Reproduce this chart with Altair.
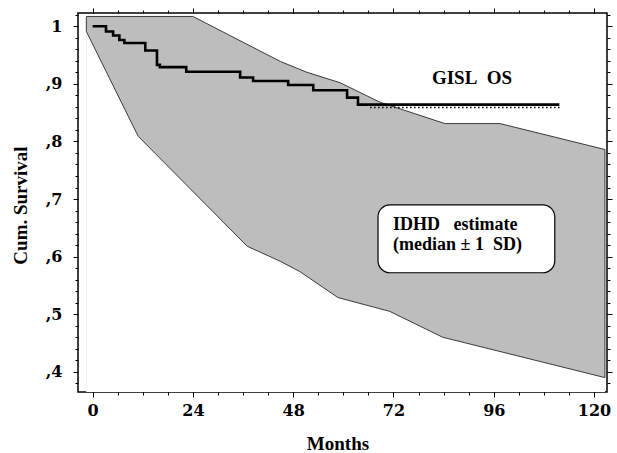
import altair as alt
import pandas as pd

# ---- data ----
upper_months = [-1.5, 24.0, 44.9, 51.3, 59.2, 68.8, 84.3, 97.5, 122.6]
upper_surv = [1.017, 1.017, 0.939, 0.920, 0.902, 0.868, 0.831, 0.831, 0.786]
lower_months = [-1.5, 10.9, 37.0, 44.9, 49.6, 58.7, 71.1, 83.8, 122.6]
lower_surv = [0.991, 0.809, 0.618, 0.592, 0.574, 0.529, 0.505, 0.460, 0.390]

km_months = [0, 3.2, 4.9, 6.4, 7.6, 12.6, 15.4, 16.1, 22.4, 35.3, 38.4, 46.8,
             52.8, 60.9, 63.5, 111.7]
km_surv = [1.0, 0.991, 0.984, 0.976, 0.971, 0.958, 0.933, 0.929, 0.921, 0.911,
           0.905, 0.898, 0.889, 0.876, 0.864, 0.864]

cens_months = [66.4, 112.3]
cens_surv = [0.859, 0.859]

x_major = [0, 24, 48, 72, 96, 120]
x_minor = [0, 6, 12, 18, 24, 30, 36, 42, 48, 54, 60, 66, 72, 78, 84, 90, 96,
           102, 108, 114, 120]
y_major = [0.4, 0.5, 0.6, 0.7, 0.8, 0.9, 1.0]
y_minor = [round(0.38 + 0.02 * i, 2) for i in range(33)]

X_DOM = [-3.5, 123.1]
Y_DOM = [0.365, 1.023]

FONT = "Liberation Serif"
TICKFONT = "DejaVu Serif"
BAND = "#bdbdbd"

upper_df = pd.DataFrame({"m": upper_months, "s": upper_surv})
lower_df = pd.DataFrame({"m": lower_months, "s": lower_surv})
outline_df = pd.DataFrame({
    "m": upper_months + lower_months[::-1] + [upper_months[0]],
    "s": upper_surv + lower_surv[::-1] + [upper_surv[0]],
})
outline_df["i"] = range(len(outline_df))
km_df = pd.DataFrame({"m": km_months, "s": km_surv})
cens_df = pd.DataFrame({"m": cens_months, "s": cens_surv})
one = pd.DataFrame({"a": [0]})

xs = alt.Scale(domain=X_DOM, nice=False, zero=False)
ys = alt.Scale(domain=Y_DOM, nice=False, zero=False)

def xax(major, orient, labels=False, title=None):
    kw = dict(orient=orient, values=x_major if major else x_minor,
              tickSize=5 if major else 3, labels=labels, domain=False,
              grid=False, tickColor="black", tickWidth=1)
    if labels:
        kw.update(labelFont=TICKFONT, labelFontWeight="bold", labelFontSize=16,
                  labelColor="black", labelPadding=5, labelFlush=False,
                  labelOverlap=False)
    if title:
        kw.update(title=title, titleFont=FONT, titleFontWeight="bold",
                  titleFontSize=19, titleColor="black", titleX=259.5,
                  titleY=51, titleAlign="center", titleBaseline="middle")
    else:
        kw.update(title=None)
    return alt.Axis(**kw)

def yax(major, orient, labels=False, title=None):
    kw = dict(orient=orient, values=y_major if major else y_minor,
              tickSize=5 if major else 3, labels=labels, domain=False,
              grid=False, tickColor="black", tickWidth=1)
    if labels:
        kw.update(labelFont=TICKFONT, labelFontWeight="bold", labelFontSize=16,
                  labelColor="black", labelPadding=11, labelFlush=False,
                  labelOverlap=False,
                  labelExpr="datum.value >= 0.999 ? '1' : ',' + format(datum.value*10, '.0f')")
    if title:
        kw.update(title=title, titleFont=FONT, titleFontWeight="bold",
                  titleFontSize=19, titleColor="black", titleX=-58,
                  titleY=192, titleAlign="center", titleBaseline="middle",
                  titleAngle=270)
    else:
        kw.update(title=None)
    return alt.Axis(**kw)

band_top = alt.Chart(upper_df).mark_area(color=BAND, opacity=1).encode(
    x=alt.X("m:Q", scale=xs, axis=xax(True, "bottom", True, "Months")),
    y=alt.Y("s:Q", scale=ys, axis=yax(True, "left", True, "Cum. Survival")),
    y2=alt.Y2(datum=Y_DOM[0]),
)
band_cut = alt.Chart(lower_df).mark_area(color="white", opacity=1).encode(
    x=alt.X("m:Q", scale=xs, axis=xax(False, "bottom")),
    y=alt.Y("s:Q", scale=ys, axis=yax(False, "left")),
    y2=alt.Y2(datum=Y_DOM[0]),
)
outline = alt.Chart(outline_df).mark_line(color="#3a3a3a", strokeWidth=1).encode(
    x=alt.X("m:Q", scale=xs, axis=xax(True, "top")),
    y=alt.Y("s:Q", scale=ys, axis=yax(True, "right")),
    order=alt.Order("i:Q"),
)
km = alt.Chart(km_df).mark_line(color="black", strokeWidth=2.6,
                                interpolate="step-after").encode(
    x=alt.X("m:Q", scale=xs, axis=xax(False, "top")),
    y=alt.Y("s:Q", scale=ys, axis=yax(False, "right")),
)
cens = alt.Chart(cens_df).mark_line(color="black", strokeWidth=1.5,
                                    strokeDash=[1.5, 2.5]).encode(
    x=alt.X("m:Q", scale=xs, axis=None),
    y=alt.Y("s:Q", scale=ys, axis=None),
)
box = alt.Chart(one).mark_rect(fill="white", stroke="black", strokeWidth=1.2,
                               cornerRadius=12).encode(
    x=alt.X(datum=68.3, scale=xs, axis=None),
    x2=alt.X2(datum=110.6),
    y=alt.Y(datum=0.690, scale=ys, axis=None),
    y2=alt.Y2(datum=0.572),
)

def label(txt, m, s, size, align):
    return alt.Chart(one).mark_text(font=FONT, fontWeight="bold", fontSize=size,
                                    color="black", align=align,
                                    baseline="middle").encode(
        x=alt.X(datum=m, scale=xs, axis=None),
        y=alt.Y(datum=s, scale=ys, axis=None),
        text=alt.value(txt),
    )

t1 = label("GISL\u00a0\u00a0OS", 90.8, 0.911, 19, "center")
t2 = label("IDHD\u00a0\u00a0\u00a0estimate", 71.9, 0.655, 18, "left")
t3 = label("(median \u00b1 1\u00a0\u00a0SD)", 71.9, 0.621, 18, "left")

chart = alt.layer(band_top, band_cut, outline, km, cens, box, t1, t2, t3).resolve_axis(
    x="independent", y="independent"
).properties(
    width=529, height=379,
    autosize=alt.AutoSizeParams(type="none"),
    padding={"left": 78, "top": 13, "right": 10, "bottom": 61},
    background="white",
).configure_view(stroke="black", strokeWidth=1.5)

chart.save("out.html", embed_options={"renderer": "svg", "actions": False})
